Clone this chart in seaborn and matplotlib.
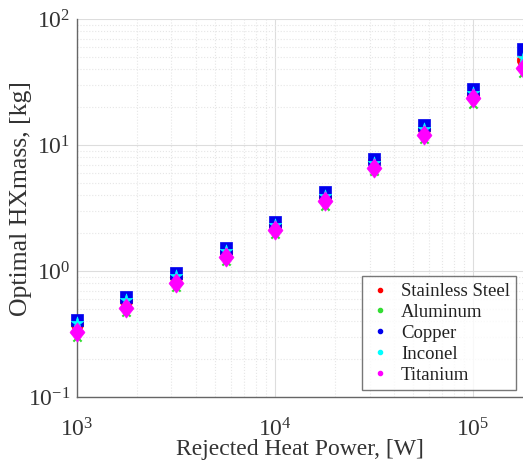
import numpy as np
import pandas as pd
import seaborn as sns
import matplotlib.pyplot as plt
from matplotlib.lines import Line2D
from matplotlib.path import Path

# data
power = [1000, 1778, 3162, 5623, 10000, 17783, 31623, 56234, 100000, 177828]
stainless = [0.38, 0.58, 0.90, 1.42, 2.30, 3.90, 7.4, 13.4, 25.0, 47.0]
aluminum = [0.30, 0.47, 0.74, 1.20, 1.95, 3.30, 6.2, 11.2, 21.0, 37.0]
copper = [0.41, 0.62, 0.96, 1.52, 2.45, 4.20, 7.8, 14.5, 28.0, 58.0]
inconel = [0.39, 0.59, 0.91, 1.44, 2.30, 3.95, 7.2, 13.5, 26.0, 49.0]
titanium = [0.33, 0.51, 0.80, 1.30, 2.10, 3.60, 6.6, 12.0, 23.5, 41.0]

materials = ["Stainless Steel", "Aluminum", "Copper", "Inconel", "Titanium"]
series = [stainless, aluminum, copper, inconel, titanium]
colors = ["red", "#33dd33", "#0000ee", "cyan", "magenta"]

# matlab-like diamond, a bit taller than wide
diamond = Path([(0, 1), (0.78, 0), (0, -1), (-0.78, 0), (0, 1)],
               [Path.MOVETO, Path.LINETO, Path.LINETO, Path.LINETO, Path.CLOSEPOLY])
markers = ["o", "x", "s", "*", diamond]
sizes = [80, 35, 85, 90, 190]

sns.set_style("white")
plt.rcParams['font.family'] = ['Liberation Serif', 'DejaVu Serif']
plt.rcParams['mathtext.fontset'] = 'stix'
plt.rcParams['axes.unicode_minus'] = False

fig = plt.figure(figsize=(5.23, 4.68), dpi=100)
ax = fig.add_axes([0.1472, 0.1517, 0.853, 0.8077])

for name, vals, c, m, s in zip(materials, series, colors, markers, sizes):
    df = pd.DataFrame({"power": power, "mass": vals})
    kw = dict(linewidth=1.5) if isinstance(m, str) and m == "x" else dict(edgecolor=c, linewidth=0.5)
    sns.scatterplot(data=df, x="power", y="mass", color=c, marker=m, s=s,
                    ax=ax, zorder=3, legend=False, clip_on=False, **kw)

ax.set_xscale("log")
ax.set_yscale("log")
ax.set_xlim(1e3, 10 ** 5.2525)
ax.set_ylim(1e-1, 1e2)

ax.grid(True, which="major", color="#dddddd", linewidth=0.8)
ax.grid(True, which="minor", color="#e6e6e6", linestyle=":", linewidth=0.8)
ax.set_axisbelow(True)

for side in ["top", "right"]:
    ax.spines[side].set_visible(False)
for side in ["left", "bottom"]:
    ax.spines[side].set_color("#666666")
    ax.spines[side].set_linewidth(1.0)

ax.tick_params(which="both", direction="in", colors="#666666", labelcolor="#333333",
               labelsize=17)
ax.tick_params(which="major", length=5)
ax.tick_params(which="minor", length=3)
ax.tick_params(axis="x", which="major", pad=15)
ax.tick_params(axis="y", which="major", pad=5)

ax.set_xlabel("Rejected Heat Power, [W]", fontsize=17, color="#333333")
ax.xaxis.set_label_coords(0.5, -0.112)
ax.set_ylabel("Optimal HXmass, [kg]", fontsize=18.5, color="#333333")
ax.yaxis.set_label_coords(-0.10, 0.524)

handles = [Line2D([], [], linestyle="none", marker="o", markersize=3,
                  color=c, label=n) for n, c in zip(materials, colors)]
leg = ax.legend(handles=handles, loc="lower right", bbox_to_anchor=(0.985, 0.018),
                borderaxespad=0, fontsize=13.5, frameon=True, fancybox=False,
                handlelength=1.2, handletextpad=0.5, labelspacing=0.2,
                borderpad=0.35)
leg.get_frame().set_edgecolor("#555555")
leg.get_frame().set_linewidth(1.0)
for t in leg.get_texts():
    t.set_color("#222222")

fig.savefig("out.png", dpi=100)
